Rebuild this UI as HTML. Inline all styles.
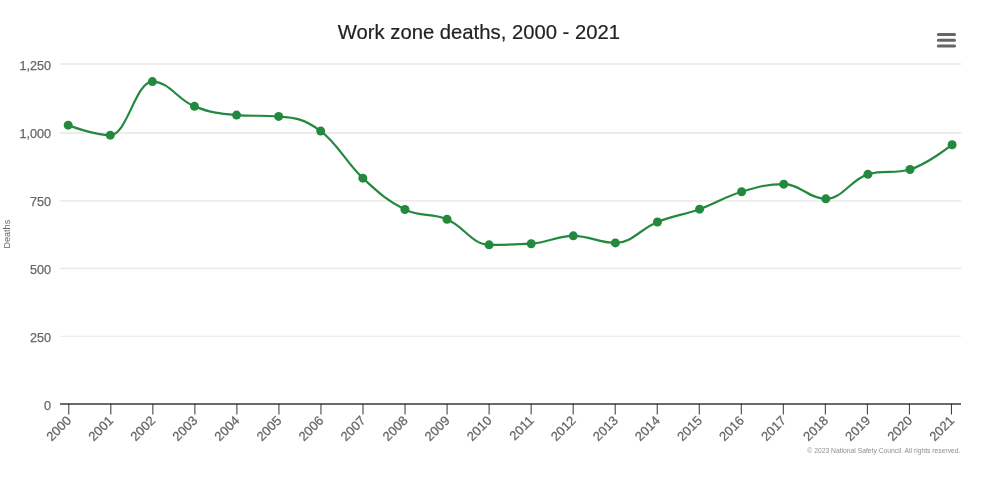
<!DOCTYPE html>
<html lang="en"><head><meta charset="utf-8"><title>Work zone deaths, 2000 - 2021</title>
<style>
html,body{margin:0;padding:0;background:#fff;}
body{width:1000px;height:478px;overflow:hidden;font-family:"Liberation Sans",sans-serif;}
svg{display:block}
svg text{font-family:"Liberation Sans",sans-serif;}
</style></head><body>
<svg width="1000" height="478" viewBox="0 0 1000 478">
<rect x="0" y="0" width="1000" height="478" fill="#ffffff"/>

<g stroke="#e6e6e6">
<path d="M 60 336.25 L 961.2 336.25" stroke-width="1.1"/>
<path d="M 60 268.4 L 961.2 268.4" stroke-width="1.1"/>
<path d="M 60 200.8 L 961.2 200.8" stroke-width="1.2"/>
<path d="M 60 133 L 961.2 133" stroke-width="1.5"/>
<path d="M 60 63.9 L 961.2 63.9" stroke-width="1.5"/>
</g>
<path d="M 60 403.9 L 961 403.9" stroke="#6a6a6a" stroke-width="2"/>
<g stroke="#333333" stroke-width="1">
<path d="M 68.80 403.6 L 68.80 414.5"/>
<path d="M 110.83 403.6 L 110.83 414.5"/>
<path d="M 152.86 403.6 L 152.86 414.5"/>
<path d="M 194.89 403.6 L 194.89 414.5"/>
<path d="M 236.92 403.6 L 236.92 414.5"/>
<path d="M 278.95 403.6 L 278.95 414.5"/>
<path d="M 320.98 403.6 L 320.98 414.5"/>
<path d="M 363.01 403.6 L 363.01 414.5"/>
<path d="M 405.04 403.6 L 405.04 414.5"/>
<path d="M 447.07 403.6 L 447.07 414.5"/>
<path d="M 489.10 403.6 L 489.10 414.5"/>
<path d="M 531.13 403.6 L 531.13 414.5"/>
<path d="M 573.16 403.6 L 573.16 414.5"/>
<path d="M 615.19 403.6 L 615.19 414.5"/>
<path d="M 657.22 403.6 L 657.22 414.5"/>
<path d="M 699.25 403.6 L 699.25 414.5"/>
<path d="M 741.28 403.6 L 741.28 414.5"/>
<path d="M 783.31 403.6 L 783.31 414.5"/>
<path d="M 825.34 403.6 L 825.34 414.5"/>
<path d="M 867.37 403.6 L 867.37 414.5"/>
<path d="M 909.40 403.6 L 909.40 414.5"/>
<path d="M 951.43 403.6 L 951.43 414.5"/>
</g>
<text x="478.9" y="39" text-anchor="middle" font-size="20.25" fill="#222222" stroke="#222222" stroke-width="0.2">Work zone deaths, 2000 - 2021</text>
<g stroke="#666666" stroke-width="3" stroke-linecap="round"><path d="M 938.3 34.6 L 954.5 34.6 M 938.3 40.3 L 954.5 40.3 M 938.3 46 L 954.5 46"/></g>
<text transform="translate(9.5 234.2) rotate(-90)" text-anchor="middle" font-size="9.1" fill="#666666">Deaths</text>
<g font-size="12.6" fill="#666666" stroke="#666666" stroke-width="0.25" text-anchor="end">
<text x="51" y="409.50">0</text>
<text x="51" y="341.60">250</text>
<text x="51" y="273.70">500</text>
<text x="51" y="205.80">750</text>
<text x="51" y="137.90">1,000</text>
<text x="51" y="70.00">1,250</text>
</g>
<g font-size="13" fill="#666666" stroke="#666666" stroke-width="0.25" text-anchor="end">
<text transform="translate(72.10 421.3) rotate(-45)">2000</text>
<text transform="translate(114.15 421.3) rotate(-45)">2001</text>
<text transform="translate(156.20 421.3) rotate(-45)">2002</text>
<text transform="translate(198.25 421.3) rotate(-45)">2003</text>
<text transform="translate(240.30 421.3) rotate(-45)">2004</text>
<text transform="translate(282.35 421.3) rotate(-45)">2005</text>
<text transform="translate(324.40 421.3) rotate(-45)">2006</text>
<text transform="translate(366.45 421.3) rotate(-45)">2007</text>
<text transform="translate(408.50 421.3) rotate(-45)">2008</text>
<text transform="translate(450.55 421.3) rotate(-45)">2009</text>
<text transform="translate(492.60 421.3) rotate(-45)">2010</text>
<text transform="translate(534.65 421.3) rotate(-45)">2011</text>
<text transform="translate(576.70 421.3) rotate(-45)">2012</text>
<text transform="translate(618.75 421.3) rotate(-45)">2013</text>
<text transform="translate(660.80 421.3) rotate(-45)">2014</text>
<text transform="translate(702.85 421.3) rotate(-45)">2015</text>
<text transform="translate(744.90 421.3) rotate(-45)">2016</text>
<text transform="translate(786.95 421.3) rotate(-45)">2017</text>
<text transform="translate(829.00 421.3) rotate(-45)">2018</text>
<text transform="translate(871.05 421.3) rotate(-45)">2019</text>
<text transform="translate(913.10 421.3) rotate(-45)">2020</text>
<text transform="translate(955.15 421.3) rotate(-45)">2021</text>
</g>
<path d="M 68.20 125.13 C 68.20 125.13 93.45 135.19 110.29 135.19 C 127.13 135.19 135.54 81.61 152.38 81.61 C 169.22 81.61 177.63 99.67 194.47 106.36 C 211.31 113.05 219.72 113.70 236.56 115.06 C 253.40 116.42 261.81 115.06 278.65 116.42 C 295.49 117.78 303.90 118.76 320.74 131.11 C 337.58 143.46 345.99 162.50 362.83 178.17 C 379.67 193.84 388.08 201.23 404.92 209.45 C 421.76 217.66 430.17 212.17 447.01 219.24 C 463.85 226.31 472.26 244.81 489.10 244.81 C 505.94 244.81 514.35 244.81 531.19 243.72 C 548.03 242.63 556.44 235.83 573.28 235.83 C 590.12 235.83 598.53 242.90 615.37 242.90 C 632.21 242.90 640.62 228.71 657.46 221.96 C 674.30 215.21 682.71 215.21 699.55 209.18 C 716.39 203.14 724.80 196.77 741.64 191.77 C 758.48 186.76 766.89 184.15 783.73 184.15 C 800.57 184.15 808.98 198.84 825.82 198.84 C 842.66 198.84 851.07 179.26 867.91 174.36 C 884.75 169.46 893.16 174.36 910.00 169.46 C 926.84 164.57 952.09 144.71 952.09 144.71" fill="none" stroke="#22893e" stroke-width="2.2" stroke-linejoin="round" stroke-linecap="round"/>
<g fill="#22893e">
<circle cx="68.20" cy="125.13" r="4.5"/>
<circle cx="110.29" cy="135.19" r="4.5"/>
<circle cx="152.38" cy="81.61" r="4.5"/>
<circle cx="194.47" cy="106.36" r="4.5"/>
<circle cx="236.56" cy="115.06" r="4.5"/>
<circle cx="278.65" cy="116.42" r="4.5"/>
<circle cx="320.74" cy="131.11" r="4.5"/>
<circle cx="362.83" cy="178.17" r="4.5"/>
<circle cx="404.92" cy="209.45" r="4.5"/>
<circle cx="447.01" cy="219.24" r="4.5"/>
<circle cx="489.10" cy="244.81" r="4.5"/>
<circle cx="531.19" cy="243.72" r="4.5"/>
<circle cx="573.28" cy="235.83" r="4.5"/>
<circle cx="615.37" cy="242.90" r="4.5"/>
<circle cx="657.46" cy="221.96" r="4.5"/>
<circle cx="699.55" cy="209.18" r="4.5"/>
<circle cx="741.64" cy="191.77" r="4.5"/>
<circle cx="783.73" cy="184.15" r="4.5"/>
<circle cx="825.82" cy="198.84" r="4.5"/>
<circle cx="867.91" cy="174.36" r="4.5"/>
<circle cx="910.00" cy="169.46" r="4.5"/>
<circle cx="952.09" cy="144.71" r="4.5"/>
</g>
<text x="960.5" y="453" text-anchor="end" font-size="6.76" fill="#8e8e8e">© 2023 National Safety Council. All rights reserved.</text>
</svg>
</body></html>
